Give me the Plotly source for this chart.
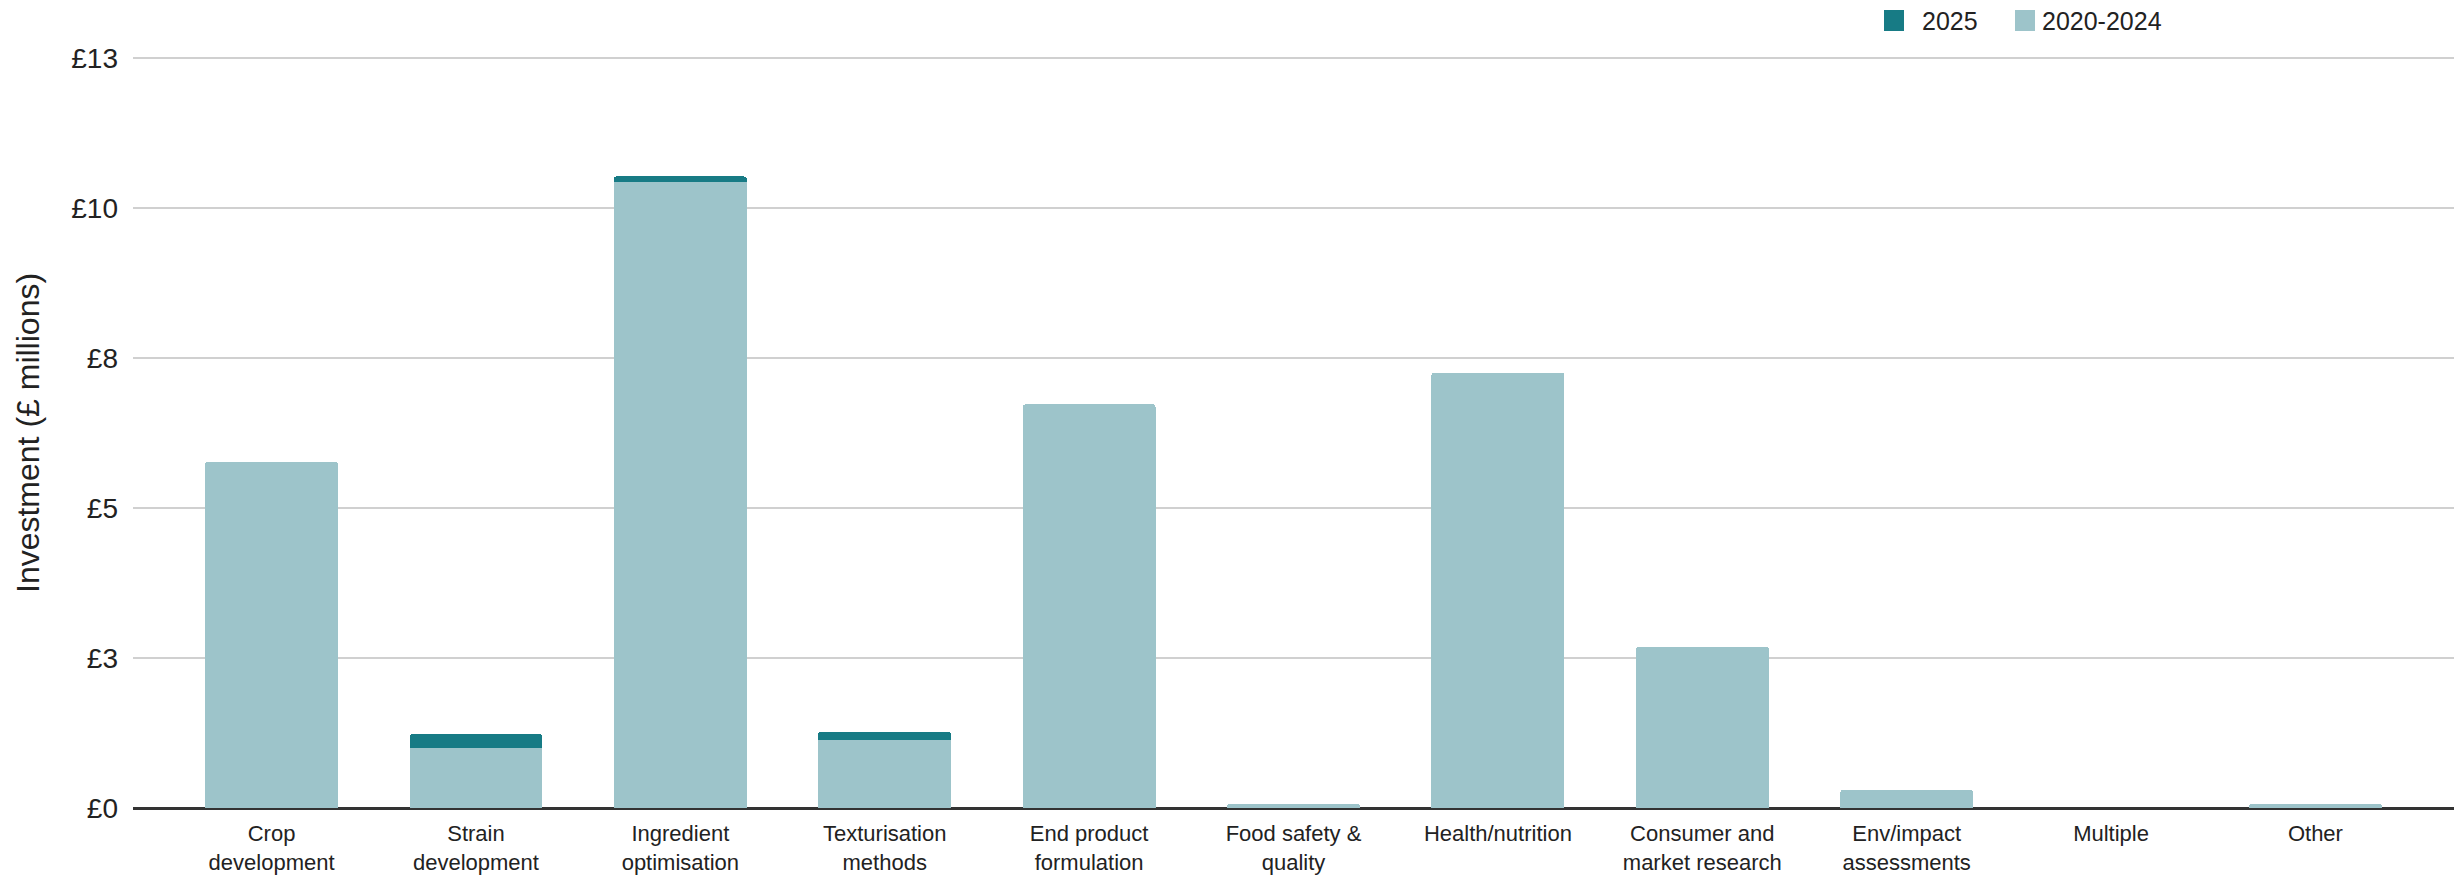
import plotly.graph_objects as go

categories = [
    "Crop<br>development", "Strain<br>development", "Ingredient<br>optimisation",
    "Texturisation<br>methods", "End product<br>formulation", "Food safety &<br>quality",
    "Health/nutrition", "Consumer and<br>market research", "Env/impact<br>assessments",
    "Multiple", "Other",
]
invest_2020_2024 = [5.77, 1.00, 10.43, 1.13, 6.73, 0.07, 7.26, 2.69, 0.30, 0.0, 0.07]
invest_2025 = [0.0, 0.23, 0.10, 0.14, 0.0, 0.0, 0.0, 0.0, 0.0, 0.0, 0.0]

tick_vals = [0, 2.5, 5, 7.5, 10, 12.5]
tick_text = ["£0", "£3", "£5", "£8", "£10", "£13"]

W, H = 2461, 876
ML, MR, MT, MB = 133, 7, 56, 68
Y_TOP = 12.5 + 2.3 / 60.0  # a little headroom so the top gridline is drawn
LIGHT = "#9dc4ca"
DARK = "#177b85"
FONT = "Liberation Sans, Arial, Helvetica, sans-serif"
TXT = "#222222"

fig = go.Figure()
fig.add_trace(go.Bar(
    x=categories, y=invest_2020_2024, name="2020-2024",
    marker=dict(color=LIGHT, line=dict(width=0)), showlegend=False,
))
fig.add_trace(go.Bar(
    x=categories, y=invest_2025, name="2025",
    marker=dict(color=DARK, line=dict(width=0), cornerradius=3), showlegend=False,
))

pw = W - ML - MR
ph = H - MT - MB


def px_x(x):
    return (x - ML) / pw


def px_y(y):
    return (H - MB - y) / ph


# custom legend: swatch + label
legend_items = [("2025", DARK, 1884, 1920), ("2020-2024", LIGHT, 2015, 2040)]
shapes = []
annotations = []
for label, color, sx, tx in legend_items:
    shapes.append(dict(
        type="rect", xref="paper", yref="paper",
        x0=px_x(sx), x1=px_x(sx + 20), y0=px_y(31), y1=px_y(10),
        fillcolor=color, line=dict(width=0),
    ))
    annotations.append(dict(
        text=label, xref="paper", yref="paper", x=px_x(tx), y=px_y(21),
        xanchor="left", yanchor="middle", showarrow=False,
        font=dict(family=FONT, size=25, color=TXT),
    ))

annotations.append(dict(
    text="Investment (£ millions)", xref="paper", yref="paper",
    x=px_x(28), y=px_y(433), textangle=-90, xanchor="center", yanchor="middle",
    showarrow=False, font=dict(family=FONT, size=32, color=TXT),
))

fig.update_layout(
    width=W, height=H,
    margin=dict(l=ML, r=MR, t=MT, b=MB, autoexpand=False),
    barmode="stack", bargap=0.35,
    plot_bgcolor="white", paper_bgcolor="white",
    font=dict(family=FONT, color=TXT),
    shapes=shapes, annotations=annotations,
    showlegend=False,
)
fig.update_xaxes(
    type="category", range=[-0.678, 10.678],
    tickfont=dict(family=FONT, size=22, color=TXT),
    showgrid=False, ticks="outside", ticklen=6, tickcolor="rgba(0,0,0,0)",
    showline=False, zeroline=False,
)
fig.update_yaxes(
    range=[0, Y_TOP], tickvals=tick_vals, ticktext=tick_text,
    tickfont=dict(family=FONT, size=28, color=TXT),
    showgrid=True, gridcolor="#d0d0d0", gridwidth=2,
    zeroline=True, zerolinecolor="#333333", zerolinewidth=3,
    ticks="", ticklabelstandoff=14, showline=False,
)

fig.write_html("out.html")
